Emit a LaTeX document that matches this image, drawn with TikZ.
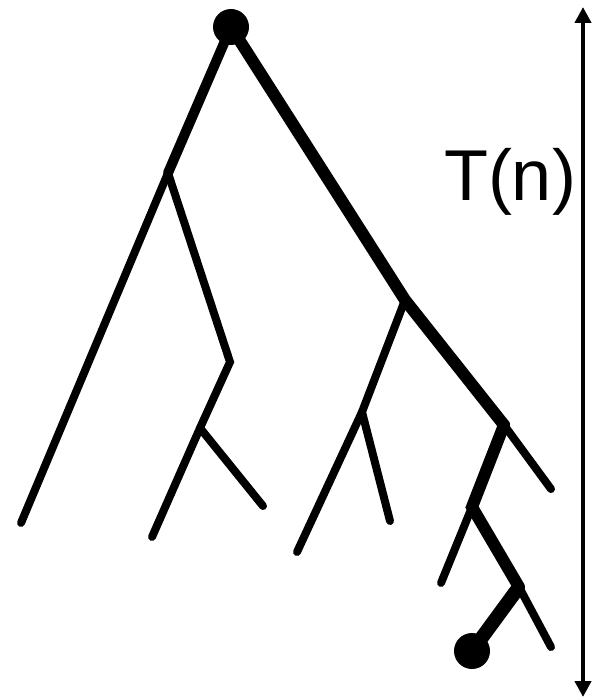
\documentclass[tikz,border=0pt]{standalone}
\usepackage{fontspec}
\setmainfont{Liberation Sans}
\usetikzlibrary{arrows.meta}
\begin{document}
\begin{tikzpicture}[x=1pt,y=-1pt,
  thin edge/.style={line width=8pt,line cap=round},
  mid edge/.style={line width=10pt,line cap=round},
  thick edge/.style={line width=12pt,line cap=round},
  dot/.style={circle,fill=black,inner sep=0pt,minimum size=36pt}]
\useasboundingbox (0,0) rectangle (597,698);
% nodes
\coordinate (r) at (231,27);
\coordinate (a) at (168,173);
\coordinate (al) at (21,523);
\coordinate (b) at (230,362);
\coordinate (c) at (200,428);
\coordinate (cl) at (152,537);
\coordinate (cr) at (263,506);
\coordinate (d) at (405,300);
\coordinate (e) at (362,412);
\coordinate (el) at (297,552);
\coordinate (er) at (390,521);
\coordinate (f) at (504,425);
\coordinate (fr) at (551,489);
\coordinate (g) at (472,507);
\coordinate (gl) at (441,583);
\coordinate (h) at (519,587);
\coordinate (hr) at (551,647);
\coordinate (l) at (472,651);
% edges
\draw[mid edge] (r) -- (a);
\draw[thin edge] (a) -- (al);
\draw[thin edge] (a) -- (b) -- (c) -- (cl);
\draw[thin edge] (c) -- (cr);
\draw[thick edge] (r) -- (d) -- (f);
\draw[thin edge] (d) -- (e) -- (el);
\draw[thin edge] (e) -- (er);
\draw[thin edge] (f) -- (fr);
\draw[thick edge] (f) -- (g) -- (h);
\draw[thin edge] (g) -- (gl);
\draw[thin edge] (h) -- (hr);
\draw[line width=14pt] (h) -- (l);
\node[dot] (rd) at (r) {};
\node[dot] (ld) at (l) {};
% height arrow
\coordinate (top) at (583,7);
\coordinate (bot) at (583,697);
\draw[line width=4pt,{Triangle[length=16pt,width=16pt]}-{Triangle[length=16pt,width=16pt]}] (top) -- (bot);
\node[anchor=base,inner sep=0pt,font=\fontsize{72}{84}\selectfont] (T) at (510,200) {T(n)};
\end{tikzpicture}
\end{document}
